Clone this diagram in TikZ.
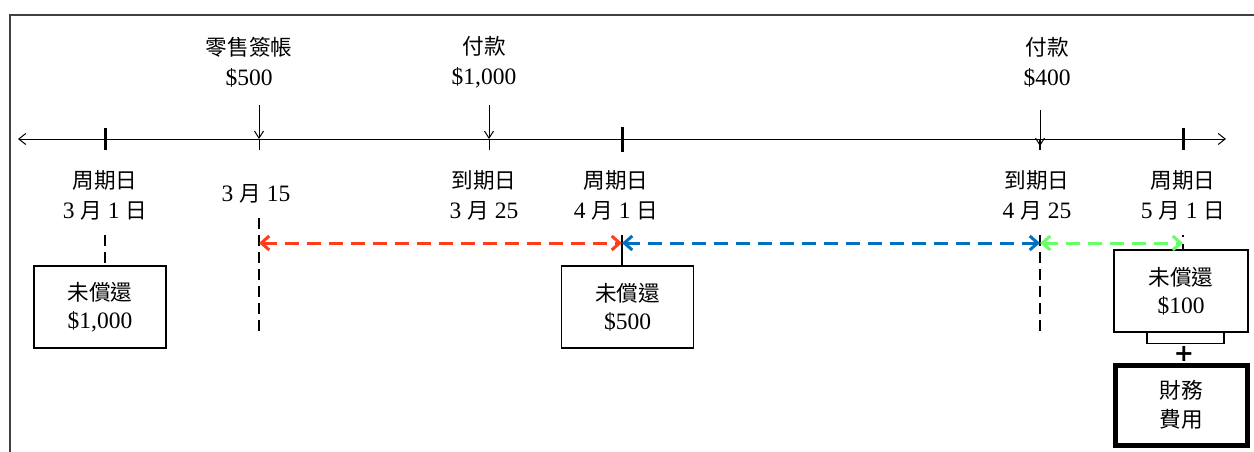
\documentclass[tikz,border=0pt]{standalone}
\usepackage{fontspec}
\setmainfont{Liberation Serif}
\newfontfamily\cjk[Scale=0.92]{Noto Sans CJK TC}
\newfontfamily\plusfont{DejaVu Sans}
\usetikzlibrary{arrows.meta}
\newcommand\zh[1]{{\cjk #1}}
\definecolor{myred}{HTML}{FF3D1A}
\definecolor{myblue}{HTML}{0070C0}
\definecolor{mygreen}{HTML}{66FF66}
\begin{document}
\begin{tikzpicture}[x=1pt,y=-1pt,
  txt/.style={align=center,inner sep=0pt,font=\fontsize{23.5}{30}\selectfont},
  box/.style={draw,line width=1.3pt,minimum width=132pt,minimum height=82pt,align=center,inner sep=0pt,font=\fontsize{23.5}{28}\selectfont},
  bigtick/.style={line width=3pt},
  smalltick/.style={line width=1pt},
  downarr/.style={line width=1pt,-{Straight Barb[length=7pt,width=9pt]}},
  vdash/.style={line width=2pt,dash pattern=on 11pt off 6pt},
  span/.style={line width=3pt,dash pattern=on 14pt off 8pt,{Straight Barb[length=8pt,width=14pt,line width=3pt]}-{Straight Barb[length=8pt,width=14pt,line width=3pt]}}
]
\useasboundingbox (0,0) rectangle (1254,452);
\clip (0,0) rectangle (1254,452);
\fill[white] (0,0) rectangle (1254,452);
% frame
\draw[line width=1.3pt,black!75] (1260,15) -- (10,15) -- (10,470);

% timeline
\coordinate (L) at (18,139);
\coordinate (R) at (1226,139);
\draw[line width=1pt,{Straight Barb[length=7pt,width=11pt]}-{Straight Barb[length=7pt,width=11pt]}] (L) -- (R);

% ticks
\coordinate (c1) at (105,139);
\coordinate (s1) at (259,139);
\coordinate (p1) at (489,139);
\coordinate (c2) at (622,139);
\coordinate (p2) at (1040,139);
\coordinate (c3) at (1183,139);
\draw[bigtick] (105,128) -- (105,150);
\draw[bigtick] (622,127) -- (622,152);
\draw[bigtick] (1183,128) -- (1183,150);
\draw[smalltick] (s1) -- (259,150);
\draw[smalltick] (p1) -- (489,150);
\draw[line width=2pt] (p2) -- (1040,150);

% down arrows
\coordinate (a1) at (259,105);
\coordinate (a2) at (489,105);
\coordinate (a3) at (1040,110);
\draw[downarr] (a1) -- (s1);
\draw[downarr] (a2) -- (p1);
\draw[downarr] (a3) -- (1040,146);

% top labels
\node[txt] (lt1) at (249,62) {\zh{零售簽帳}\\\$500};
\node[txt] (lt2) at (484,62) {\zh{付款}\\\$1,000};
\node[txt] (lt3) at (1047,62) {\zh{付款}\\\$400};

% bottom labels
\node[txt] (lb1) at (105,195) {\zh{周期日}\\3 \zh{月} 1 \zh{日}};
\node[txt] (lb2) at (256,194) {3 \zh{月} 15};
\node[txt] (lb3) at (484,195) {\zh{到期日}\\3 \zh{月} 25};
\node[txt] (lb4) at (616,195) {\zh{周期日}\\4 \zh{月} 1 \zh{日}};
\node[txt] (lb5) at (1037,195) {\zh{到期日}\\4 \zh{月} 25};
\node[txt] (lb6) at (1183,195) {\zh{周期日}\\5 \zh{月} 1 \zh{日}};

% boxes
\node[box] (b1) at (100,307) {\zh{未償還}\\\$1,000};
\node[box] (b2) at (627.5,307) {\zh{未償還}\\\$500};
\node[box,minimum width=134pt] (b3) at (1181,291) {\zh{未償還}\\\$100};
\node[draw,line width=1.3pt,minimum width=77pt,minimum height=11pt,inner sep=0pt,anchor=north] (b3s) at (1185.5,332) {};
\node[inner sep=0pt,font=\plusfont\bfseries\fontsize{24}{24}\selectfont] (plus) at (1184,354) {+};
\node[draw,line width=5pt,minimum width=132pt,minimum height=80pt,align=center,inner sep=0pt,font=\fontsize{23.5}{29}\selectfont] (b4) at (1181.5,405) {\zh{財務}\\\zh{費用}};

% vertical connectors
\coordinate (v1t) at (105,235);
\coordinate (v2t) at (259,218);
\coordinate (v2b) at (259,336);
\coordinate (v3t) at (622,235);
\coordinate (v4t) at (1040,235);
\coordinate (v4b) at (1040,336);
\coordinate (v5t) at (1183,235);
\draw[vdash] (v1t) -- (b1.north -| v1t);
\draw[vdash] (v2t) -- (v2b);
\draw[line width=2pt] (v3t) -- (b2.north -| v3t);
\draw[vdash] (v4t) -- (v4b);
\draw[line width=1.5pt,dash pattern=on 2pt off 7pt on 8pt off 100pt] (v5t) -- (b3.north -| v5t);

% spans
\coordinate (h1) at (259,243);
\coordinate (h2) at (622,243);
\coordinate (h3) at (1040,243);
\coordinate (h4) at (1183,243);
\draw[span,myred] (h1) -- (h2);
\draw[span,myblue] (h2) -- (h3);
\draw[span,mygreen] (h3) -- (h4);
\end{tikzpicture}
\end{document}
